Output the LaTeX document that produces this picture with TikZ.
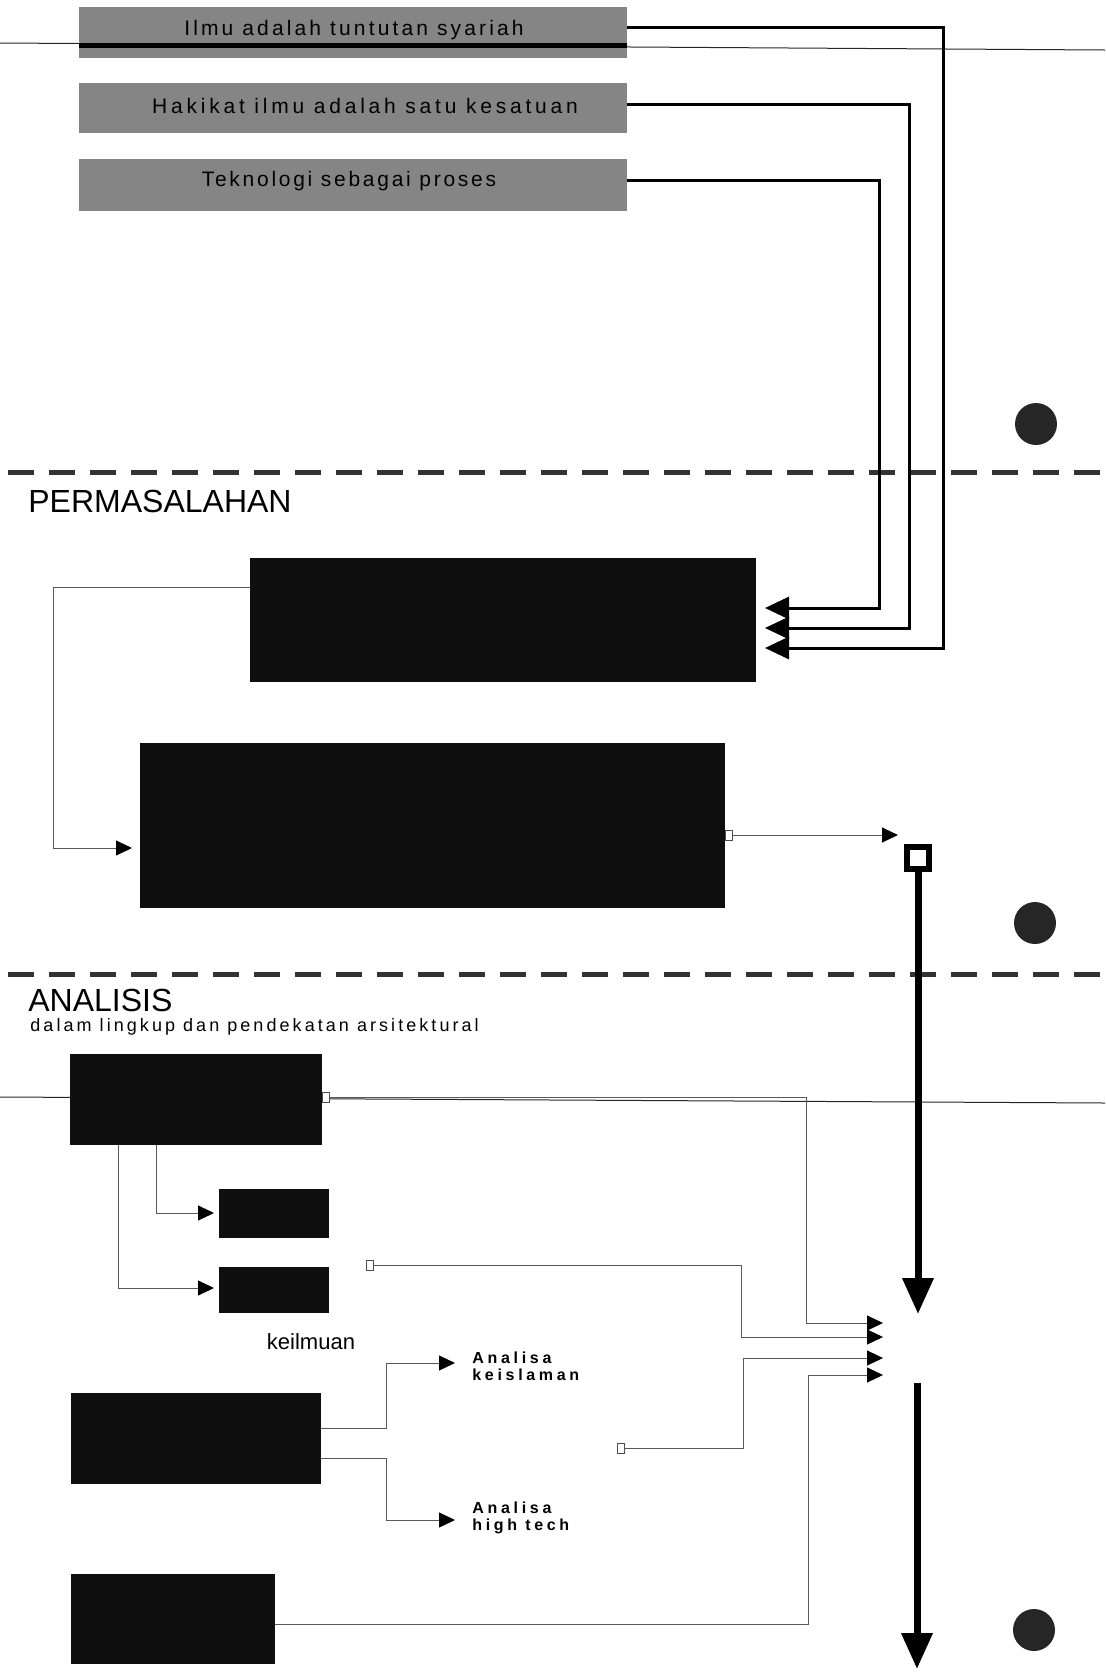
\documentclass[tikz,border=0pt]{standalone}
\usepackage{fontspec}
\setmainfont{Liberation Sans}
\usetikzlibrary{arrows.meta,calc}
\begin{document}
\begin{tikzpicture}[x=0.5pt,y=-0.5pt,
  graybox/.style={fill=black!48,inner sep=0,outer sep=0,anchor=north west},
  darkbox/.style={fill=black!94,inner sep=0,outer sep=0,anchor=north west},
  boxtext/.style={inner sep=0,text=black},
  heavy/.style={line width=1.5pt,-{Triangle[length=12pt,width=11pt]}},
  conn/.style={line width=0.5pt,draw=black!65,-{Triangle[length=8pt,width=7.5pt,color=black]}},
  port/.style={draw=black!70,fill=white,line width=0.4pt,minimum width=3.5pt,minimum height=5pt,inner sep=0},
  dotmark/.style={circle,fill=black!85,minimum size=21pt,inner sep=0},
  sepline/.style={line width=2.5pt,draw=black!80,dash pattern=on 13pt off 7.5pt},
  bigarrow/.style={line width=3.5pt,-{Triangle[length=18pt,width=15pt]}},
  lbl/.style={inner sep=0,align=left,font=\fontsize{8}{8.5}\selectfont\bfseries\addfontfeatures{LetterSpace=23}},
]
\useasboundingbox (0,0) rectangle (1105,1672);

% horizontal rules
\draw[line width=0.5pt,black!85] (0,43) -- (1105,50);
\draw[line width=0.5pt,black!85] (0,1097) -- (1105,1103);

% top grey boxes
\node[graybox,minimum width=274pt,minimum height=25.5pt] (b1) at (79,7) {};
\node[graybox,minimum width=274pt,minimum height=25pt] (b2) at (79,83) {};
\node[graybox,minimum width=274pt,minimum height=26pt] (b3) at (79,159) {};
\draw[line width=2.5pt] (b1.west |- 0,45) -- (b1.east |- 0,45);
\node[boxtext,font=\fontsize{10.5}{12}\selectfont\addfontfeatures{LetterSpace=15}] (b1t) at (354,30) {Ilmu adalah tuntutan syariah};
\node[boxtext,font=\fontsize{10.5}{12}\selectfont\addfontfeatures{LetterSpace=18}] (b2t) at (365,106) {Hakikat ilmu adalah satu kesatuan};
\node[boxtext,font=\fontsize{10.5}{12}\selectfont\addfontfeatures{LetterSpace=13}] (b3t) at (349,181) {Teknologi sebagai proses};

% section markers
\node[dotmark] (c1) at (1036,424) {};
\node[dotmark] (c2) at (1035,923) {};
\node[dotmark] (c3) at (1034,1630) {};
\draw[sepline] (8,472) -- (1105,472);
\draw[sepline] (8,974) -- (1105,974);

% headings
\node[inner sep=0,anchor=base west,font=\fontsize{16}{18}\selectfont] (h1) at (28,512) {PERMASALAHAN};
\node[inner sep=0,anchor=base west,font=\fontsize{16}{18}\selectfont] (h2) at (28,1011) {ANALISIS};
\node[inner sep=0,anchor=base west,font=\fontsize{9}{10}\selectfont\addfontfeatures{LetterSpace=17}] (h3) at (30,1031) {dalam lingkup dan pendekatan arsitektural};

% dark boxes
\node[darkbox,minimum width=253pt,minimum height=62pt] (b4) at (250,558) {};
\node[darkbox,minimum width=292.5pt,minimum height=82.5pt] (b5) at (140,743) {};
\node[darkbox,minimum width=126pt,minimum height=45.5pt] (b6) at (70,1054) {};
\node[darkbox,minimum width=55pt,minimum height=24.5pt] (b7) at (219,1189) {};
\node[darkbox,minimum width=55pt,minimum height=23pt] (b8) at (219,1267) {};
\node[darkbox,minimum width=125pt,minimum height=45.5pt] (b9) at (71,1393) {};
\node[darkbox,minimum width=102pt,minimum height=45pt] (b10) at (71,1574) {};

% target coordinates
\coordinate (t1) at (765,648);
\coordinate (t2) at (765,628);
\coordinate (t3) at (765,608);
\coordinate (t5in) at (132,848);
\coordinate (t5out) at (898,835);
\coordinate (hubtop) at (918,1314);
\coordinate (hubbot) at (917,1383);
\coordinate (pend) at (917,1669);
\coordinate (t6) at (883,1323);
\coordinate (t9) at (883,1337);
\coordinate (t10) at (883,1358);
\coordinate (t11) at (883,1375);
\coordinate (t7) at (214,1213);
\coordinate (t8) at (214,1288);
\coordinate (tk) at (455,1363);
\coordinate (th) at (455,1520);

% top connectors
\draw[heavy] ([yshift=2.75pt]b1.east) -- ++(316,0) |- (t1);
\draw[heavy] ([yshift=2pt]b2.east) -- ++(282,0) |- (t2);
\draw[heavy] ([yshift=2.5pt]b3.east) -- ++(252,0) |- (t3);

% permasalahan connectors
\draw[conn] ([yshift=16.5pt]b4.west) -- ++(-197,0) |- (t5in);
\node[port,anchor=west] (pA) at ([yshift=-4.75pt]b5.east) {};
\draw[conn] (pA.east) -- (t5out);
\node[draw,line width=3pt,fill=white,minimum size=11pt,inner sep=0] (sq) at (918,858) {};
\draw[bigarrow] (sq.south) -- (hubtop);
\draw[bigarrow] (hubbot) -- (pend);

% analisis connectors
\node[port,anchor=west] (pB) at ([yshift=1.25pt]b6.east) {};
\draw[conn] (pB.east) -- ++(477,0) |- (t6);
\draw[conn] ([xshift=-20pt]b6.south) |- (t7);
\draw[conn] ([xshift=-39pt]b6.south) |- (t8);
\node[port] (pC) at (370,1265) {};
\draw[conn] (pC.east) -- ++(368,0) |- (t9);
\node[port] (pD) at (621,1448) {};
\draw[conn] (pD.east) -- ++(119,0) |- (t10);
\draw[conn] ([yshift=-2.5pt]b10.east) -- ++(533,0) |- (t11);
\draw[conn] ([yshift=5.25pt]b9.east) -- ++(65,0) |- (tk);
\draw[conn] ([yshift=-9.75pt]b9.east) -- ++(65,0) |- (th);

% labels
\node[inner sep=0,font=\fontsize{11}{12}\selectfont] (kl) at (311,1342) {keilmuan};
\node[lbl,anchor=west] (lk) at (472,1366) {Analisa\\keislaman};
\node[lbl,anchor=west] (lh) at (472,1518) {Analisa\\high tech};
\end{tikzpicture}
\end{document}
